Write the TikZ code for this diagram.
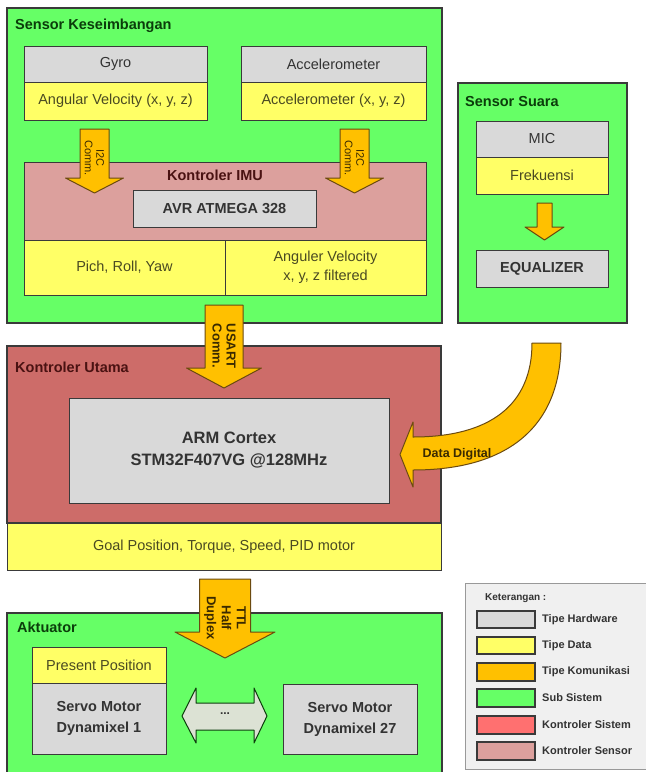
\documentclass[tikz,border=0pt]{standalone}
\usepackage{fontspec}
\setmainfont{Liberation Sans}
\definecolor{subgreen}{HTML}{66FF66}
\definecolor{hwgray}{HTML}{D9D9D9}
\definecolor{datyellow}{HTML}{FFFF66}
\definecolor{comorange}{HTML}{FFC000}
\definecolor{combord}{HTML}{6B4A10}
\definecolor{comtext}{HTML}{3A2A00}
\definecolor{ctrlred}{HTML}{CD6C69}
\definecolor{ctrlredleg}{HTML}{FF7070}
\definecolor{sensorpink}{HTML}{DCA09D}
\definecolor{bord}{HTML}{3A3A3A}
\definecolor{txtdark}{HTML}{333333}
\definecolor{txtolive}{HTML}{4A4A22}
\definecolor{ttlgreen}{HTML}{0B3D0B}
\definecolor{ttlred}{HTML}{4A1212}
\definecolor{legbg}{HTML}{F0F0F0}
\definecolor{dblfill}{HTML}{DCE2D4}
\newcommand\fs[2]{\fontsize{#1}{#2}\selectfont}
\newcommand\bx[7]{\node[#6, minimum width={(#4-#2)*1pt}, minimum height={(#5-#3)*1pt}] (#1) at ({(#2+#4)/2},{(#3+#5)/2}) {#7};}
\newcommand\dnarrow[6]{\draw[comshape] ({#1-#3},#2) -- ({#1+#3},#2) -- ({#1+#3},#4) -- ({#1+#5},#4) -- (#1,#6) -- ({#1-#5},#4) -- ({#1-#3},#4) -- cycle;}
\tikzset{
  bxbase/.style={draw=bord, line width=1pt, inner sep=0pt, outer sep=0pt, align=center},
  subsys/.style={bxbase, fill=subgreen, line width=1.3pt},
  hw/.style={bxbase, fill=hwgray, text=txtdark, font=\fs{14.5}{18}},
  hwb/.style={bxbase, fill=hwgray, text=txtdark, font=\fs{14.5}{21}\bfseries},
  datbox/.style={bxbase, fill=datyellow, text=txtolive, font=\fs{14.5}{19}},
  ctrlbox/.style={bxbase, fill=ctrlred, line width=1.3pt},
  sensbox/.style={bxbase, fill=sensorpink},
  ttlg/.style={anchor=west, font=\fs{14.5}{17}\bfseries, inner sep=0pt, text=ttlgreen},
  ttlr/.style={anchor=west, font=\fs{14.5}{17}\bfseries, inner sep=0pt, text=ttlred},
  comshape/.style={fill=comorange, draw=combord, line width=1pt, line join=round},
  comtxt/.style={rotate=-90, align=center, text=comtext, inner sep=0pt},
  swatch/.style={bxbase, line width=1.2pt, minimum width=58pt, minimum height=17pt},
  legtxt/.style={anchor=west, font=\fs{11}{13}\bfseries, text=txtdark, inner sep=0pt}
}
\begin{document}
\begin{tikzpicture}[x=1pt,y=-1pt]
\clip (0,0) rectangle (646,772);
\fill[white] (0,0) rectangle (646,772);

% ---------- Sensor Keseimbangan ----------
\bx{sk}{7}{8}{442}{323}{subsys}{}
\node[ttlg] (skt) at (15,26) {Sensor Keseimbangan};
\bx{gyro}{24}{46}{207}{82}{hw}{Gyro}
\bx{angv}{24}{82}{207}{120}{datbox}{Angular Velocity (x, y, z)}
\bx{acc}{241}{46}{426}{82}{hw}{Accelerometer}
\bx{accd}{241}{82}{426}{120}{datbox}{Accelerometer (x, y, z)}
\bx{imu}{24}{162}{426}{240}{sensbox}{}
\node[anchor=center, font=\fs{14.5}{17}\bfseries, text=ttlred, inner sep=0pt] (imut) at (215,175) {Kontroler IMU};
\bx{avr}{133}{190}{316}{227}{hwb}{AVR ATMEGA 328}
\bx{pry}{24}{240}{225}{295}{datbox}{Pich, Roll, Yaw}
\bx{avf}{225}{240}{426}{295}{datbox}{Anguler Velocity\\x, y, z filtered}

% I2C arrows
\dnarrow{94.5}{129}{14.5}{178}{29}{193}
\node[comtxt, font=\fs{11}{11.5}] (i2ca) at (94.5,158) {I2C\\Comm.};
\dnarrow{354.5}{129}{14.5}{178}{29}{193}
\node[comtxt, font=\fs{11}{11.5}] (i2cb) at (354.5,158) {I2C\\Comm.};

% ---------- Sensor Suara ----------
\bx{ss}{458}{83}{627}{323}{subsys}{}
\node[ttlg] (sst) at (465,102) {Sensor Suara};
\bx{mic}{476}{121}{608}{157}{hw}{MIC}
\bx{frek}{476}{157}{608}{194}{datbox}{Frekuensi}
\bx{eq}{476}{250}{608}{287}{hwb}{EQUALIZER}
\dnarrow{544.5}{203}{7.5}{227}{19.5}{240}

% ---------- Kontroler Utama ----------
\bx{ku}{7}{346}{441}{523}{ctrlbox}{}
\node[ttlr] (kut) at (15,367) {Kontroler Utama};
\bx{arm}{69}{398}{389}{503}{hwb, font=\fs{16.5}{22}\bfseries}{ARM Cortex\\STM32F407VG @128MHz}
\bx{goal}{7}{523}{441}{570}{datbox}{Goal Position, Torque, Speed, PID motor}

% USART arrow
\dnarrow{224}{305}{19}{368}{37.5}{388}
\node[comtxt, font=\fs{13}{14}\bfseries] (usart) at (224,346) {USART\\Comm.};

% Data Digital curved arrow
\draw[comshape] (532,343) -- (561,343)
  .. controls (561,425) and (510,470) .. (413,470)
  -- (413,487) -- (400,454.5) -- (413,422) -- (413,437)
  .. controls (490,437) and (532,405) .. (532,343) -- cycle;
\node[font=\fs{12.5}{14}\bfseries, text=comtext, inner sep=0pt] (dd) at (457,454) {Data Digital};

% ---------- Aktuator ----------
\bx{akt}{7}{613}{442}{800}{subsys}{}
\node[ttlg] (aktt) at (17,627) {Aktuator};
\bx{pp}{32}{647}{166}{683}{datbox}{Present Position}
\bx{sv1}{32}{683}{166}{754}{hwb}{Servo Motor\\Dynamixel 1}
\bx{sv27}{283}{684}{417}{754}{hwb}{Servo Motor\\Dynamixel 27}
\draw[fill=dblfill, draw=ttlgreen, line width=1pt, line join=round]
  (182,716) -- (196,688) -- (196,703) -- (254,703) -- (254,688) -- (267,716)
  -- (254,743) -- (254,730) -- (196,730) -- (196,743) -- cycle;
\node[font=\fs{12}{14}\bfseries, text=txtdark, inner sep=0pt] (dots) at (225,714) {...};

% TTL arrow
\dnarrow{225}{579}{25.5}{632}{50}{658}
\node[comtxt, font=\fs{13}{15}\bfseries] (ttl) at (225,618) {TTL\\Half\\Duplex};

% ---------- Legend ----------
\draw[fill=legbg, draw=gray!80, line width=1pt] (465,583) rectangle (660,769);
\node[legtxt, font=\fs{10}{12}\bfseries] (ket) at (485,598) {Keterangan :};
\bx{lg1}{477}{611}{535}{628}{swatch, fill=hwgray}{}
\bx{lg2}{477}{637}{535}{654}{swatch, fill=datyellow}{}
\bx{lg3}{477}{663}{535}{681}{swatch, fill=comorange}{}
\bx{lg4}{477}{689}{535}{707}{swatch, fill=subgreen}{}
\bx{lg5}{477}{716}{535}{734}{swatch, fill=ctrlredleg}{}
\bx{lg6}{477}{742}{535}{760}{swatch, fill=sensorpink}{}
\node[legtxt] (lt1) at (542,619.5) {Tipe Hardware};
\node[legtxt] (lt2) at (542,645.5) {Tipe Data};
\node[legtxt] (lt3) at (542,672) {Tipe Komunikasi};
\node[legtxt] (lt4) at (542,698) {Sub Sistem};
\node[legtxt] (lt5) at (542,725) {Kontroler Sistem};
\node[legtxt] (lt6) at (542,751) {Kontroler Sensor};
\end{tikzpicture}
\end{document}
